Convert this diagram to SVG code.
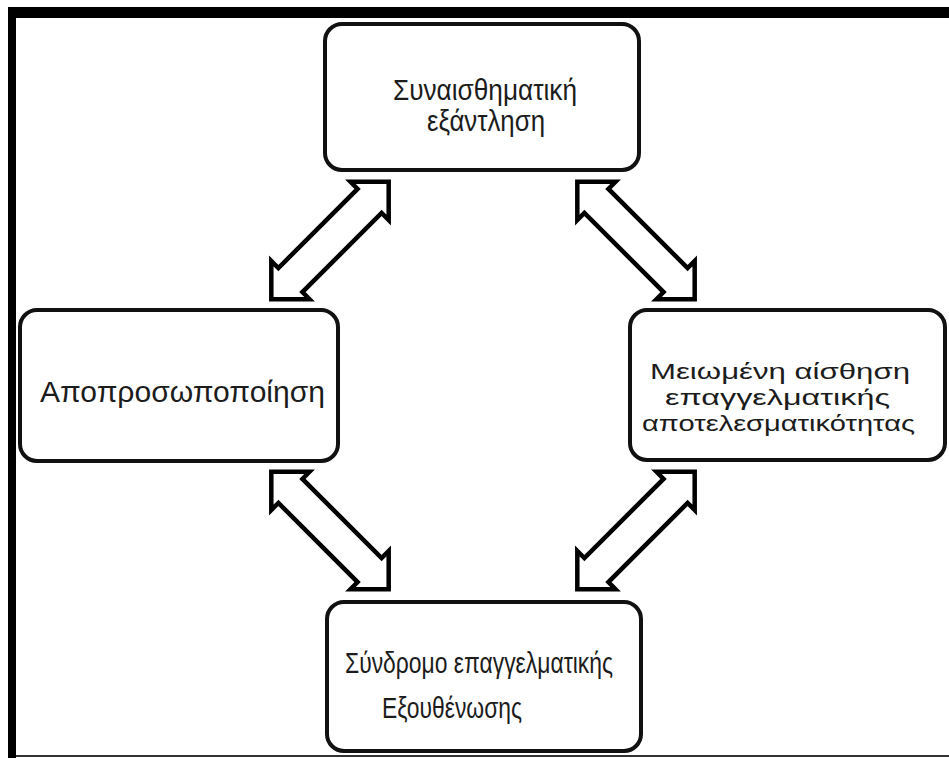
<svg xmlns="http://www.w3.org/2000/svg" xmlns:xlink="http://www.w3.org/1999/xlink" width="949" height="758" viewBox="0 0 949 758">
  <style>
    .box { fill: #ffffff; stroke: #111111; stroke-width: 4; }
    .lbl { font-family: "Liberation Sans", Arial, "Noto Sans", sans-serif; fill: #1c1c1c; }
    .arr { fill: #ffffff; stroke: #000000; stroke-width: 4.5; stroke-linejoin: miter; }
  </style>
  <defs>
    <polygon id="dbl" points="-83,0 -56,-27 -56,-17 56,-17 56,-27 83,0 56,27 56,17 -56,17 -56,27"/>
  </defs>
  <rect x="0" y="0" width="949" height="758" fill="#ffffff"/>
  <g id="frame">
    <rect x="8" y="7" width="941" height="11" fill="#000000"/>
    <rect x="8" y="7" width="8" height="751" fill="#000000"/>
    <rect x="16" y="755" width="933" height="2" fill="#333333"/>
  </g>
  <g id="connectors">
    <use xlink:href="#dbl" class="arr" transform="translate(330,240.5) rotate(-45)"/>
    <use xlink:href="#dbl" class="arr" transform="translate(636,240.5) rotate(45)"/>
    <use xlink:href="#dbl" class="arr" transform="translate(330,530.5) rotate(45)"/>
    <use xlink:href="#dbl" class="arr" transform="translate(636,530.5) rotate(-45)"/>
  </g>
  <g id="node-exhaustion">
    <rect class="box" x="325" y="24" width="314" height="146" rx="17"/>
    <text class="lbl" font-size="30" x="393" y="100" textLength="184" lengthAdjust="spacingAndGlyphs">Συναισθηματική</text>
    <text class="lbl" font-size="30" x="427" y="131" textLength="118" lengthAdjust="spacingAndGlyphs">εξάντληση</text>
  </g>
  <g id="node-depersonalization">
    <rect class="box" x="20" y="310" width="318" height="151" rx="17"/>
    <text class="lbl" font-size="29" x="40" y="402" textLength="285" lengthAdjust="spacingAndGlyphs">Αποπροσωποποίηση</text>
  </g>
  <g id="node-efficacy">
    <rect class="box" x="630" y="310" width="315" height="150" rx="17"/>
    <text class="lbl" font-size="22.5" x="650" y="379" textLength="260" lengthAdjust="spacingAndGlyphs">Μειωμένη αίσθηση</text>
    <text class="lbl" font-size="22.5" x="665" y="405" textLength="225" lengthAdjust="spacingAndGlyphs">επαγγελματικής</text>
    <text class="lbl" font-size="22.5" x="642" y="431" textLength="273" lengthAdjust="spacingAndGlyphs">αποτελεσματικότητας</text>
  </g>
  <g id="node-burnout">
    <rect class="box" x="327" y="602" width="314" height="149" rx="17"/>
    <text class="lbl" font-size="30" x="345" y="673" textLength="268" lengthAdjust="spacingAndGlyphs">Σύνδρομο επαγγελματικής</text>
    <text class="lbl" font-size="30" x="382" y="718" textLength="140" lengthAdjust="spacingAndGlyphs">Εξουθένωσης</text>
  </g>
</svg>
